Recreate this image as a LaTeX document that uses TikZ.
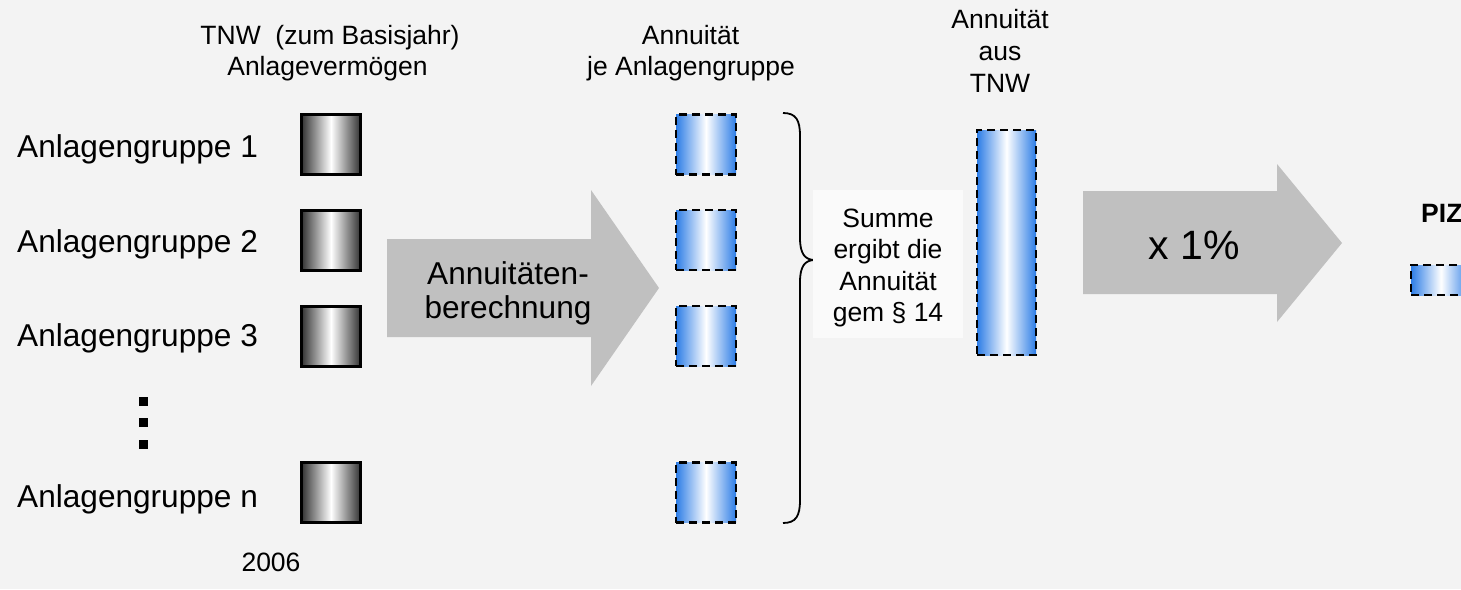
\documentclass[tikz,border=0pt]{standalone}
\usepackage{fontspec}
\setmainfont{Liberation Sans}
\definecolor{bg}{RGB}{243,243,243}
\definecolor{arrowgray}{RGB}{192,192,192}
\definecolor{blueedge}{RGB}{45,125,230}
\definecolor{boxfill}{RGB}{250,250,250}
\tikzset{
  bigtext/.style={font=\fontsize{31.6}{36}\selectfont, inner sep=0pt},
  smalltext/.style={font=\fontsize{26.5}{31}\selectfont, inner sep=0pt},
  graybox/.style={draw=black, line width=3pt, left color=black!80, right color=black!80, middle color=white, minimum width=59pt, minimum height=60pt, inner sep=0pt},
  bluebox/.style={draw=black, dash pattern=on 8pt off 5pt, line width=2.2pt, left color=blueedge, right color=blueedge, middle color=white, minimum width=60pt, minimum height=60pt, inner sep=0pt},
  bigarrow/.style={fill=arrowgray},
  dotsq/.style={fill=black, minimum width=9pt, minimum height=9pt, inner sep=0pt},
}
\begin{document}
\begin{tikzpicture}[x=1pt,y=-1pt]
\fill[bg] (0,0) rectangle (1461,589);
\useasboundingbox (0,0) rectangle (1461,589);
\clip (0,0) rectangle (1461,589);

% header texts
\node[smalltext, anchor=base] (h1a) at (330,44) {TNW\ \ (zum Basisjahr)};
\node[smalltext, anchor=base] (h1b) at (327.5,75) {Anlagevermögen};
\node[smalltext, anchor=base] (h2a) at (690.5,44) {Annuität};
\node[smalltext, anchor=base] (h2b) at (691,75) {je Anlagengruppe};
\node[smalltext, anchor=base] (h3a) at (1000,28) {Annuität};
\node[smalltext, anchor=base] (h3b) at (1000,60) {aus};
\node[smalltext, anchor=base] (h3c) at (1000,92) {TNW};

% row labels
\node[bigtext, anchor=base west] (l1) at (17,157) {Anlagengruppe 1};
\node[bigtext, anchor=base west] (l2) at (17,252) {Anlagengruppe 2};
\node[bigtext, anchor=base west] (l3) at (17,346) {Anlagengruppe 3};
\node[bigtext, anchor=base west] (ln) at (17,507) {Anlagengruppe n};

% vertical dots
\node[dotsq] (d1) at (143.5,401.5) {};
\node[dotsq] (d2) at (143.5,422.5) {};
\node[dotsq] (d3) at (143.5,444.5) {};

% gray boxes
\node[graybox] (g1) at (331,144.5) {};
\node[graybox] (g2) at (331,240.5) {};
\node[graybox] (g3) at (331,336.5) {};
\node[graybox] (gn) at (331,492.5) {};
\node[smalltext, anchor=base] (year) at (271,571) {2006};

% arrow 1
\fill[bigarrow] (387,239) -- (591,239) -- (591,190) -- (659,288) -- (591,386) -- (591,337) -- (387,337) -- cycle;
\node[bigtext, anchor=base] (a1a) at (508,284) {Annuitäten-};
\node[bigtext, anchor=base] (a1b) at (508,318) {berechnung};

% blue boxes
\node[bluebox] (b1) at (706,144.5) {};
\node[bluebox] (b2) at (706,240) {};
\node[bluebox] (b3) at (706,336) {};
\node[bluebox] (bn) at (706,492.5) {};

% brace
\draw[line width=1.8pt] (783,113) .. controls (796,113) and (800,120) .. (800,136) -- (800,238)
  .. controls (800,254) and (805,260) .. (815,260)
  .. controls (805,260) and (800,266) .. (800,282) -- (800,500)
  .. controls (800,516) and (796,523) .. (783,523);

% sum box
\node[fill=boxfill, minimum width=150pt, minimum height=148pt, inner sep=0pt] (sum) at (888,264) {};
\node[smalltext, anchor=base] (s1) at (888,227) {Summe};
\node[smalltext, anchor=base] (s2) at (888,258.5) {ergibt die};
\node[smalltext, anchor=base] (s3) at (888,290) {Annuität};
\node[smalltext, anchor=base] (s4) at (888,321.5) {gem § 14};

% tall bar
\node[bluebox, minimum width=59pt, minimum height=225pt] (tall) at (1006.5,242.5) {};

% arrow 2
\fill[bigarrow] (1083,191) -- (1277,191) -- (1277,164) -- (1342,243) -- (1277,322) -- (1277,294) -- (1083,294) -- cycle;
\node[font=\fontsize{41}{48}\selectfont, inner sep=0pt, anchor=base] (pct) at (1194,259) {x 1\%};

% PIZ
\node[font=\fontsize{26.5}{31}\selectfont\bfseries, inner sep=0pt, anchor=base west] (piz) at (1421,222) {PIZ};
\node[bluebox, minimum width=60pt, minimum height=30pt] (pizbox) at (1441,280) {};
\end{tikzpicture}
\end{document}
